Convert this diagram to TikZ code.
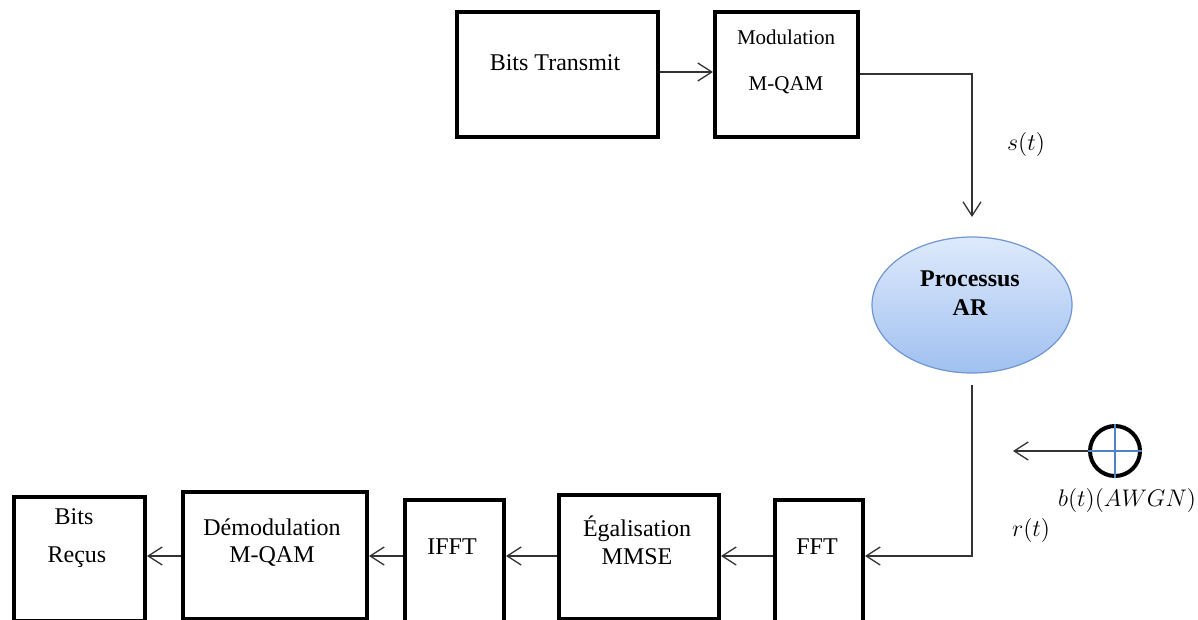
\documentclass[tikz,border=0pt]{standalone}
\usepackage{amsmath}
\usepackage{fontspec}
\setmainfont{Liberation Serif}
\usetikzlibrary{arrows.meta, shapes.geometric}
\definecolor{arHaut}{RGB}{222,234,252}
\definecolor{arBas}{RGB}{160,192,240}
\definecolor{arBord}{RGB}{110,150,210}
\definecolor{croix}{RGB}{80,130,200}

\begin{document}
\begin{tikzpicture}[x=0.5pt, y=-0.5pt, >={Straight Barb[length=7pt,width=9pt]},
    bloc/.style={draw, line width=2pt, inner sep=0pt},
    fl/.style={->, line width=0.65pt, draw=black!80},
    txt/.style={font=\fontsize{12}{14}\selectfont},
    lbl/.style={font=\fontsize{12.5}{14}\selectfont}]
        \useasboundingbox (0,0) rectangle (1198,620);
        \clip (0,0) rectangle (1198,620);
        % émission
        \node[bloc, minimum width=100.5pt, minimum height=62.5pt] (bt) at (557.5,74.5) {};
        \node[bloc, minimum width=71.5pt, minimum height=62.5pt] (mod) at (786.5,74.5) {};
        \node[txt] (tbt) at (555,63) {Bits Transmit};
        \node[font=\fontsize{10.5}{12}\selectfont] (tmod1) at (786,37) {Modulation};
        \node[font=\fontsize{10.5}{12}\selectfont] (tmod2) at (786,85) {M-QAM};
        \draw[fl] (bt.east |- 0,72) -- (mod.west |- 0,72);
        % canal AR
        \node[ellipse, draw=arBord, line width=0.6pt, top color=arHaut, bottom color=arBas,
              minimum width=100pt, minimum height=68pt] (ar) at (972,305) {};
        \node[txt, font=\fontsize{12}{14}\selectfont\bfseries] (tar1) at (970,279) {Processus};
        \node[txt, font=\fontsize{12}{14}\selectfont\bfseries] (tar2) at (970,308) {AR};
        \coordinate (sIn) at (972,217);
        \draw[fl] (mod.east |- 0,74) -| (sIn);
        \node[lbl] (st) at (1026,145) {$s(t)$};
        % bruit
        \node[circle, draw, line width=2pt, minimum size=25pt, inner sep=0pt] (bruit) at (1115,451) {};
        \draw[croix, line width=0.6pt] (bruit.west) -- (bruit.east) (bruit.north) -- (bruit.south);
        \coordinate (bOut) at (1013,451);
        \draw[fl] (bruit.west) -- (bOut);
        \node[lbl] (bt2) at (1127,500) {$b(t)(AWGN)$};
        \node[lbl] (rt) at (1031,530) {$r(t)$};
        % réception
        \coordinate (ligne) at (0,556);
        \node[bloc, minimum width=44pt, minimum height=80pt, anchor=north west] (fft) at (773,498) {};
        \node[bloc, minimum width=80pt, minimum height=62pt, anchor=north west] (eg) at (557,493) {};
        \node[bloc, minimum width=49.5pt, minimum height=80pt, anchor=north west] (ifft) at (403,498) {};
        \node[bloc, minimum width=92pt, minimum height=63.5pt, anchor=north west] (demod) at (181,490) {};
        \node[bloc, minimum width=65.5pt, minimum height=62pt, anchor=north west] (br) at (12,495) {};
        \node[txt] (tfft) at (817,547) {FFT};
        \node[txt] (teg1) at (637,529) {Égalisation};
        \node[txt] (teg2) at (637,557) {MMSE};
        \node[txt] (tifft) at (452,547) {IFFT};
        \node[txt] (tdem1) at (272,527) {Démodulation};
        \node[txt] (tdem2) at (272,556) {M-QAM};
        \node[txt] (tbr1) at (74,517) {Bits};
        \node[txt] (tbr2) at (77,557) {Reçus};
        \coordinate (arOut) at (972,385);
        \draw[fl] (arOut) |- (fft.east |- ligne);
        \draw[fl] (fft.west |- ligne) -- (eg.east |- ligne);
        \draw[fl] (eg.west |- ligne) -- (ifft.east |- ligne);
        \draw[fl] (ifft.west |- ligne) -- (demod.east |- ligne);
        \draw[fl] (demod.west |- ligne) -- (br.east |- ligne);
      \end{tikzpicture}
\end{document}
